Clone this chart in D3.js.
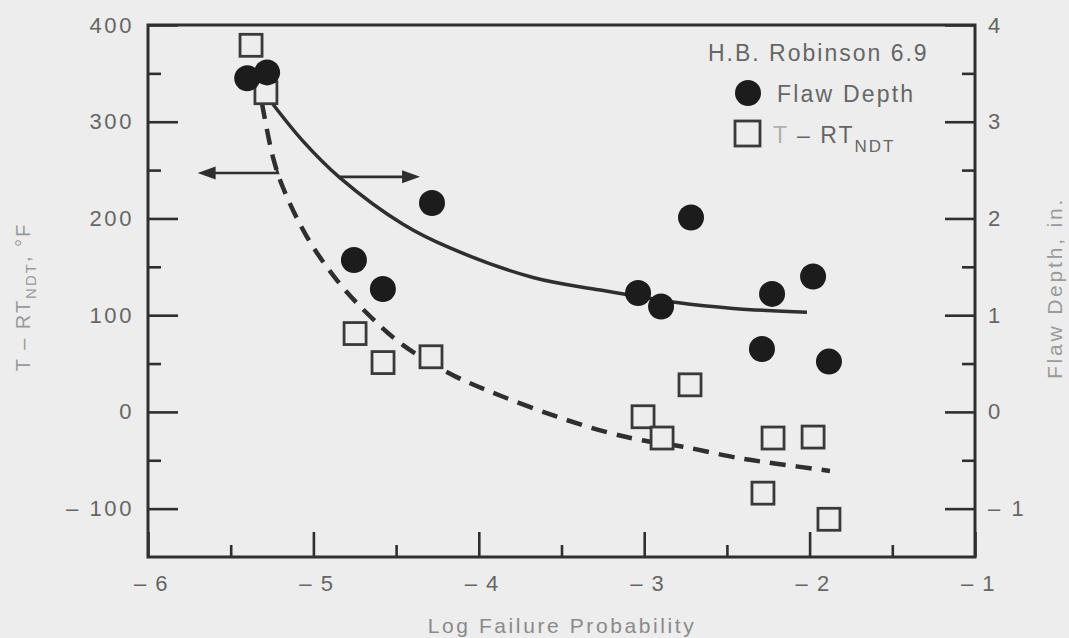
<!DOCTYPE html>
<html>
<head>
<meta charset="utf-8">
<script src="https://cdn.jsdelivr.net/npm/d3@7"></script>
<style>
  html, body { margin: 0; padding: 0; background: #ededed; }
  svg { display: block; }
  text { font-family: "Liberation Sans", Arial, Helvetica, sans-serif; }
</style>
</head>
<body>
<svg id="chart" width="1069" height="638"></svg>
<script>
// H.B. Robinson 6.9 — flaw depth and T - RT_NDT versus log failure probability

// Flaw depth points (in.), right axis
const depthLogP = [-5.40, -5.28, -4.755, -4.58, -4.283, -3.037, -2.898, -2.717, -2.288, -2.227, -1.979, -1.883];
const depthIn   = [3.45, 3.51, 1.57, 1.27, 2.16, 1.23, 1.09, 2.01, 0.65, 1.22, 1.40, 0.52];

// T - RT_NDT points (°F), left axis
const tempLogP = [-5.377, -5.287, -4.748, -4.579, -4.289, -2.723, -3.007, -2.892, -2.221, -1.979, -2.282, -1.883];
const tempF    = [379, 330, 81, 51, 57, 28, -5, -27, -27, -26, -84, -111];

// Trend through the flaw depth points (in.)
const depthFitLogP = [-5.262, -5.063, -4.839, -4.458, -4.174, -3.672, -3.267, -2.802, -2.463, -2.016];
const depthFitIn   = [3.22, 2.80, 2.42, 1.94, 1.695, 1.39, 1.26, 1.13, 1.07, 1.03];

// Trend through the T - RT_NDT points (°F)
const tempFitLogP = [-5.311, -5.244, -5.184, -5.039, -4.857, -4.676, -4.458, -4.156, -3.872, -3.527, -3.225, -3.025, -2.765, -2.421, -2.221, -1.877];
const tempFitF    = [319, 263, 232, 181, 136, 102, 69, 38, 17, -5, -21, -29, -36, -48, -53, -61];

// Axis ticks and labels
const xMajor = [-6, -5, -4, -3, -2, -1];
const xMinor = [-5.5, -4.5, -3.5, -2.5, -1.5];
const xTickLabels = ["– 6", "– 5", "– 4", "– 3", "– 2", "– 1"];
const leftMajor = [400, 300, 200, 100, 0, -100];
const leftMinor = [350, 250, 150, 50, -50];
const leftTickLabels = ["400", "300", "200", "100", "0", "– 100"];
const rightMajor = [4, 3, 2, 1, 0, -1];
const rightMinor = [3.5, 2.5, 1.5, 0.5, -0.5];
const rightTickLabels = ["4", "3", "2", "1", "0", "– 1"];

// Direction arrows: which axis each curve belongs to
const leftArrow  = { from: [-5.244, 263], corner: [-5.215, 247], to: [-5.70, 247] };
const rightArrow = { from: [-4.839, 243], to: [-4.355, 243] };

const svg = d3.select("#chart");
const W = 1069, H = 638;
const plot = { left: 148, right: 975, top: 25, bottom: 557 };

const ink = "#2f2f2f";
const labelInk = "#666";
const titleInk = "#8a8a8a";
const bg = "#ededed";

svg.append("rect").attr("width", W).attr("height", H).attr("fill", bg);

const x = d3.scaleLinear().domain([-6, -1]).range([plot.left, plot.right]);
const yL = d3.scaleLinear().domain([-150, 400]).range([plot.bottom, plot.top]);
const yR = d3.scaleLinear().domain([-1.5, 4]).range([plot.bottom, plot.top]);

function styleAxis(g, fontSize, spacing) {
  g.select(".domain").remove();
  g.selectAll(".tick line").attr("stroke", ink).attr("stroke-width", 2.6);
  g.selectAll(".tick text")
    .attr("fill", labelInk)
    .style("font-size", fontSize + "px")
    .style("letter-spacing", spacing + "px");
}

// Left axis (ticks inside the frame)
svg.append("g").attr("transform", `translate(${plot.left},0)`)
  .call(d3.axisLeft(yL).tickValues(leftMinor).tickSize(-13).tickFormat(""))
  .call(g => styleAxis(g, 22, 3));
svg.append("g").attr("transform", `translate(${plot.left},0)`)
  .call(d3.axisLeft(yL).tickValues(leftMajor).tickSize(-30).tickPadding(14)
    .tickFormat((d, i) => leftTickLabels[i]))
  .call(g => styleAxis(g, 22, 2.6));

// Right axis
svg.append("g").attr("transform", `translate(${plot.right},0)`)
  .call(d3.axisRight(yR).tickValues(rightMinor).tickSize(-13).tickFormat(""))
  .call(g => styleAxis(g, 22, 3));
svg.append("g").attr("transform", `translate(${plot.right},0)`)
  .call(d3.axisRight(yR).tickValues(rightMajor).tickSize(-30).tickPadding(13)
    .tickFormat((d, i) => rightTickLabels[i]))
  .call(g => styleAxis(g, 22, 2.6));

// Bottom axis
svg.append("g").attr("transform", `translate(0,${plot.bottom})`)
  .call(d3.axisBottom(x).tickValues(xMinor).tickSize(-12).tickFormat(""))
  .call(g => styleAxis(g, 22, 3));
svg.append("g").attr("transform", `translate(0,${plot.bottom})`)
  .call(d3.axisBottom(x).tickValues(xMajor).tickSize(-25).tickPadding(18)
    .tickFormat((d, i) => xTickLabels[i]))
  .call(g => styleAxis(g, 22, 1.5))
  .call(g => g.selectAll(".tick text").attr("dx", 3));

// Frame
svg.append("rect")
  .attr("x", plot.left).attr("y", plot.top)
  .attr("width", plot.right - plot.left).attr("height", plot.bottom - plot.top)
  .attr("fill", "none").attr("stroke", ink).attr("stroke-width", 3);

// Trend curves
const depthLine = d3.line().x(d => x(d[0])).y(d => yR(d[1])).curve(d3.curveCatmullRom.alpha(0.5));
const tempLine = d3.line().x(d => x(d[0])).y(d => yL(d[1])).curve(d3.curveCatmullRom.alpha(0.5));

svg.append("path")
  .datum(depthFitLogP.map((v, i) => [v, depthFitIn[i]]))
  .attr("d", depthLine)
  .attr("fill", "none").attr("stroke", ink).attr("stroke-width", 3.5);

svg.append("path")
  .datum(tempFitLogP.map((v, i) => [v, tempFitF[i]]))
  .attr("d", tempLine)
  .attr("fill", "none").attr("stroke", ink).attr("stroke-width", 4.5)
  .attr("stroke-dasharray", "16,10");

// Arrows
function arrowHead(tip, dir) {
  const len = 18, half = 6.5;
  const [tx, ty] = tip;
  const bx = tx - dir * len;
  return `M${tx},${ty}L${bx},${ty - half}L${bx},${ty + half}Z`;
}
svg.append("path")
  .attr("d", `M${x(leftArrow.from[0])},${yL(leftArrow.from[1])}L${x(leftArrow.corner[0])},${yL(leftArrow.corner[1])}L${x(leftArrow.to[0]) + 10},${yL(leftArrow.to[1])}`)
  .attr("fill", "none").attr("stroke", ink).attr("stroke-width", 2.6);
svg.append("path")
  .attr("d", arrowHead([x(leftArrow.to[0]), yL(leftArrow.to[1])], -1))
  .attr("fill", ink);
svg.append("path")
  .attr("d", `M${x(rightArrow.from[0])},${yL(rightArrow.from[1])}L${x(rightArrow.to[0]) - 10},${yL(rightArrow.to[1])}`)
  .attr("fill", "none").attr("stroke", ink).attr("stroke-width", 2.6);
svg.append("path")
  .attr("d", arrowHead([x(rightArrow.to[0]), yL(rightArrow.to[1])], 1))
  .attr("fill", ink);

// T - RT_NDT squares
const sq = 22;
svg.append("g").selectAll("rect")
  .data(tempLogP.map((v, i) => [v, tempF[i]]))
  .join("rect")
  .attr("x", d => x(d[0]) - sq / 2)
  .attr("y", d => yL(d[1]) - sq / 2)
  .attr("width", sq).attr("height", sq)
  .attr("fill", bg).attr("stroke", "#3a3a3a").attr("stroke-width", 2.8);

// Flaw depth circles
svg.append("g").selectAll("circle")
  .data(depthLogP.map((v, i) => [v, depthIn[i]]))
  .join("circle")
  .attr("cx", d => x(d[0]))
  .attr("cy", d => yR(d[1]))
  .attr("r", 13)
  .attr("fill", "#1c1c1c");

// Legend
const legend = svg.append("g");
legend.append("text")
  .attr("x", 708).attr("y", 61)
  .attr("fill", labelInk)
  .style("font-size", "23px").style("letter-spacing", "2px")
  .text("H.B. Robinson 6.9");
legend.append("circle").attr("cx", 748).attr("cy", 93).attr("r", 13).attr("fill", "#1c1c1c");
legend.append("text")
  .attr("x", 777).attr("y", 102)
  .attr("fill", labelInk)
  .style("font-size", "23px").style("letter-spacing", "2.2px")
  .text("Flaw Depth");
legend.append("rect")
  .attr("x", 735).attr("y", 121).attr("width", 25).attr("height", 25)
  .attr("fill", bg).attr("stroke", "#3a3a3a").attr("stroke-width", 2.8);
const lt = legend.append("text")
  .attr("x", 773).attr("y", 143)
  .attr("fill", labelInk)
  .style("font-size", "23px").style("letter-spacing", "2px");
lt.append("tspan").attr("fill", "#b0b0b0").text("T");
lt.append("tspan").text(" – RT");
lt.append("tspan").attr("dy", 9).style("font-size", "17px").text("NDT");

// Axis titles
svg.append("text")
  .attr("x", 562).attr("y", 633)
  .attr("text-anchor", "middle")
  .attr("fill", titleInk)
  .style("font-size", "21px").style("letter-spacing", "2.6px")
  .text("Log Failure Probability");

const lTitle = svg.append("text")
  .attr("transform", "translate(30,297) rotate(-90)")
  .attr("text-anchor", "middle")
  .attr("fill", "#9a9a9a")
  .style("font-size", "20px").style("letter-spacing", "2px");
lTitle.append("tspan").text("T – RT");
lTitle.append("tspan").attr("dy", 6).style("font-size", "15px").text("NDT");
lTitle.append("tspan").attr("dy", -6).text(", °F");

svg.append("text")
  .attr("transform", "translate(1062,288) rotate(-90)")
  .attr("text-anchor", "middle")
  .attr("fill", "#9a9a9a")
  .style("font-size", "21px").style("letter-spacing", "2.8px")
  .text("Flaw Depth, in.");
</script>
</body>
</html>
